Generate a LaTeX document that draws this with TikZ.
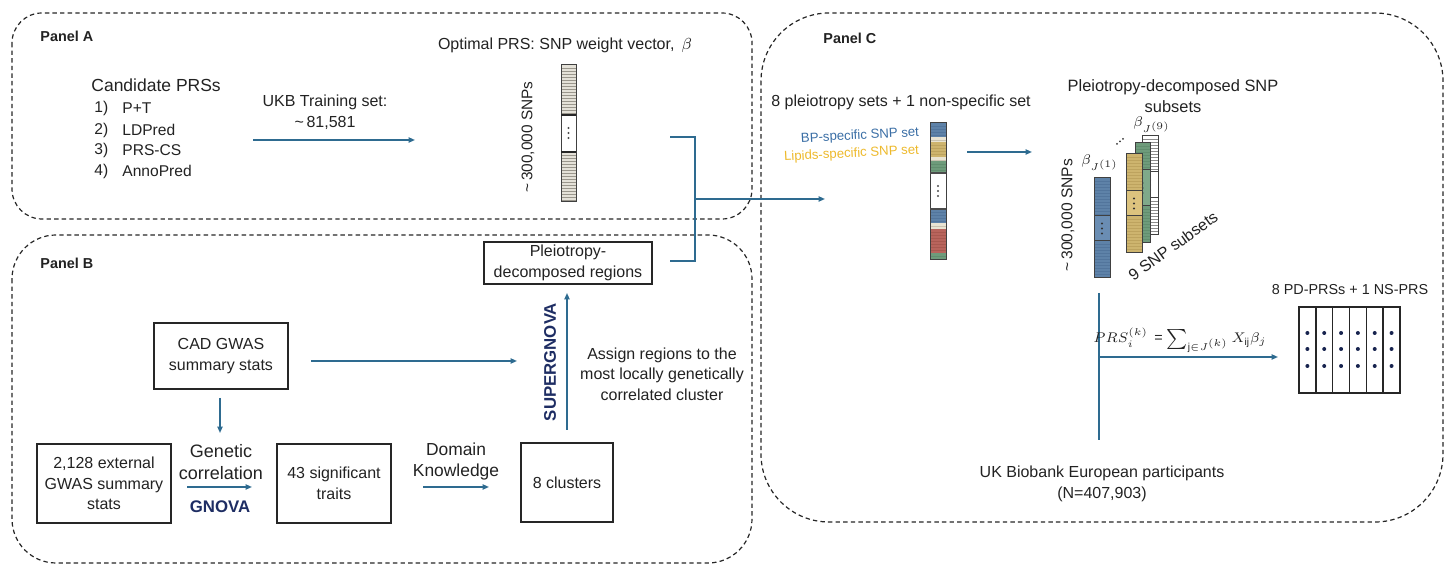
\documentclass[tikz,border=0pt]{standalone}
\usepackage{fontspec}
\setmainfont{Liberation Sans}
\usetikzlibrary{arrows.meta}
\definecolor{arrowblue}{HTML}{2E6B90}
\definecolor{navy}{HTML}{1E2D63}
\definecolor{txt}{HTML}{222222}
\definecolor{bptext}{HTML}{3A6EA5}
\definecolor{liptext}{HTML}{EDB92B}
\definecolor{vblue}{HTML}{5E82A8}
\definecolor{vbluel}{HTML}{52759C}
\definecolor{vbluem}{HTML}{6A8DB3}
\definecolor{vgold}{HTML}{CDB46E}
\definecolor{vgoldl}{HTML}{BDA35E}
\definecolor{vgoldm}{HTML}{DCC37E}
\definecolor{vgreen}{HTML}{6E9B7B}
\definecolor{vgreenl}{HTML}{618E6E}
\definecolor{vgreenm}{HTML}{7FA98A}
\definecolor{vred}{HTML}{B8645C}
\definecolor{vredl}{HTML}{A8584F}
\definecolor{vbeige}{HTML}{E9E4D3}
\definecolor{vbeigel}{HTML}{C9C3B0}
\definecolor{vgrey}{HTML}{E4E1D8}
\definecolor{vgreyl}{HTML}{9A968C}
\newcommand\fsz[2]{\fontsize{#1}{#2}\selectfont}
\newcommand\stripebox[6]{%
  \fill[#5] (#1,#2) rectangle (#3,#4);
  \pgfmathtruncatemacro\nstr{(#4-#2)/3}
  \foreach \k in {1,...,\nstr}{\draw[#6,line width=0.3pt] (#1,{#2+3*\k}) -- (#3,{#2+3*\k});}
}
\newcommand\vdotsat[3]{% x ycenter colour
  \fill[#3] (#1,#2) ++(0,-5) circle (0.55pt) (#1,#2) circle (0.55pt) (#1,#2) ++(0,5) circle (0.55pt);
}
\newcommand\stackvec[9]{% x1 y1 x2 y2 d1 d2 fill stripe mid
  \stripebox{#1}{#2}{#3}{#5}{#7}{#8}
  \fill[#9] (#1,#5) rectangle (#3,#6);
  \stripebox{#1}{#6}{#3}{#4}{#7}{#8}
  \draw[vborder] (#1,#2) rectangle (#3,#4);
  \draw[vborder] (#1,#5) -- (#3,#5) (#1,#6) -- (#3,#6);
  \pgfmathsetmacro\svx{(#1+#3)/2}
  \pgfmathsetmacro\svy{(#5+#6)/2}
  \vdotsat{\svx}{\svy}{black!80}
}
\begin{document}
\begin{tikzpicture}[x=0.5pt,y=-0.5pt,
  panel/.style={draw=black!85, dash pattern=on 2.2pt off 1.6pt, line width=0.6pt},
  conn/.style={draw=arrowblue, line width=0.75pt},
  arr/.style={conn, -{Triangle[length=3.2pt,width=2.6pt]}},
  vborder/.style={draw=black!75, line width=0.5pt},
  box/.style={draw=black!85, line width=0.75pt, inner sep=0, align=center, text=txt, font=\fsz{8}{10.25}},
  lbl/.style={inner sep=0, align=center, text=txt, font=\fsz{8}{10.25}},
  plabel/.style={inner sep=0, anchor=west, text=txt, font=\fsz{7.2}{9}\bfseries},
]
\useasboundingbox (0,0) rectangle (1448,565);

% ---------- panels ----------
\draw[panel, rounded corners=15pt] (12,13) rectangle (752,219);
\draw[panel, rounded corners=22pt] (12,235) rectangle (752,563);
\draw[panel, rounded corners=34pt] (761,13) rectangle (1443,522);

% ---------- Panel A ----------
\node[plabel] (pA) at (40,36) {Panel A};
\node[lbl, anchor=west, font=\fsz{8.75}{10.5}] (cand) at (91,85) {Candidate PRSs};
\foreach \n/\t/\y in {1/P+T/108, 2/LDPred/130, 3/PRS-CS/150, 4/AnnoPred/171}{
  \node[lbl, anchor=west, font=\fsz{7.8}{9.5}] (num\n) at (94,\y) {\n)};
  \node[lbl, anchor=west, font=\fsz{7.8}{9.5}] (item\n) at (122,\y) {\t};
}
\node[lbl] (ukb) at (325,112) {UKB Training set:\\[0pt]\textasciitilde\,81,581};
\coordinate (ukbS) at (253,140);
\coordinate (ukbE) at (415,140);
\draw[arr] (ukbS) -- (ukbE);

\node[lbl] (opt) at (565,45) {Optimal PRS: SNP weight vector, \,$\beta$};
\node[lbl, rotate=90, font=\fsz{7.7}{9}] (snpsA) at (528,137) {\textasciitilde\,300,000 SNPs};
% weight vector
\stripebox{561}{65}{576}{115}{vgrey}{vgreyl}
\fill[white] (561,115) rectangle (576,152);
\stripebox{561}{152}{576}{202}{vgrey}{vgreyl}
\draw[vborder] (561,65) rectangle (576,202);
\draw[black!85, line width=0.7pt] (561,115) -- (576,115) (561,152) -- (576,152);
\vdotsat{568.5}{133}{black!70}

% bracket to panel C
\coordinate (brT) at (670,137);
\coordinate (brB) at (670,261);
\coordinate (brM) at (695,199);
\coordinate (brE) at (825,199);
\draw[conn] (brT) -- (695,137) -- (695,261) -- (brB);
\draw[arr] (brM) -- (brE);

% ---------- Panel B ----------
\node[plabel] (pB) at (40,263) {Panel B};
\node[box, minimum width=67pt, minimum height=33pt] (cad) at (221,356) {CAD GWAS\\summary stats};
\node[box, minimum width=67pt, minimum height=39.5pt] (ext) at (104,483.5) {2,128 external\\GWAS summary\\stats};
\node[box, minimum width=57pt, minimum height=39.5pt] (sig) at (334,483.5) {43 significant\\traits};
\node[box, minimum width=46pt, minimum height=39.5pt] (clus) at (567,482.5) {8 clusters};
\node[box, minimum width=84pt, minimum height=21pt] (pdr) at (568,263) {Pleiotropy-\\decomposed regions};

\node[lbl, font=\fsz{9}{11}] (gen) at (221,462) {Genetic\\correlation};
\node[lbl, font=\fsz{8.4}{10}\bfseries, text=navy] (gnova) at (220,507) {GNOVA};
\node[lbl, font=\fsz{8.7}{10.5}] (dom) at (456,462) {Domain\\Knowledge};
\node[lbl, rotate=90, font=\fsz{8.4}{10}\bfseries, text=navy] (sgn) at (550,362) {SUPERGNOVA};
\node[lbl] (assign) at (662,374) {Assign regions to the\\most locally genetically\\correlated cluster};

\coordinate (cadR) at (311,361);
\coordinate (sgnIn) at (517,361);
\draw[arr] (cadR) -- (sgnIn);
\coordinate (cadD) at (220,398);
\coordinate (genTop) at (220,433);
\draw[arr] (cadD) -- (genTop);
\coordinate (genS) at (187,487);
\coordinate (genE) at (252,487);
\draw[arr] (genS) -- (genE);
\coordinate (domS) at (423,487);
\coordinate (domE) at (489,487);
\draw[arr] (domS) -- (domE);
\coordinate (upS) at (567,430);
\coordinate (upE) at (567,293);
\draw[arr] (upS) -- (upE);

% ---------- Panel C ----------
\node[plabel] (pC) at (823,38) {Panel C};
\node[lbl, anchor=west] (psets) at (771,102) {8 pleiotropy sets + 1 non-specific set};
\node[lbl, rotate=3, font=\fsz{6.6}{8}, text=bptext] (bp) at (860,136) {BP-specific SNP set};
\node[lbl, rotate=3, font=\fsz{6.6}{8}, text=liptext] (lip) at (851.5,154) {Lipids-specific SNP set};

% coloured vector
\stripebox{930}{123}{946}{137}{vblue}{vbluel}
\stripebox{930}{137}{946}{142}{vbeige}{vbeigel}
\stripebox{930}{142}{946}{157}{vgold}{vgoldl}
\stripebox{930}{157}{946}{161}{vbeige}{vbeigel}
\stripebox{930}{161}{946}{173}{vgreen}{vgreenl}
\fill[white] (930,173) rectangle (946,209);
\stripebox{930}{209}{946}{223}{vblue}{vbluel}
\stripebox{930}{223}{946}{229}{vbeige}{vbeigel}
\stripebox{930}{229}{946}{253}{vred}{vredl}
\stripebox{930}{253}{946}{260}{vgreen}{vgreenl}
\draw[vborder] (930,123) rectangle (946,260);
\draw[black!70, line width=0.6pt] (930,173) -- (946,173) (930,209) -- (946,209);
\vdotsat{938}{191}{black!70}

\coordinate (cS) at (967,152);
\coordinate (cE) at (1032,152);
\draw[arr] (cS) -- (cE);

\node[lbl, font=\fsz{8.2}{10.5}] (pds) at (1173,96) {Pleiotropy-decomposed SNP\\subsets};
\node[lbl, rotate=90, font=\fsz{7.8}{9}] (snpsC) at (1068,215) {\textasciitilde\,300,000 SNPs};

% stacked vectors (back to front)
\stackvec{1142}{136}{1158}{235}{172}{198}{white}{black!45}{white}
\stackvec{1135}{143}{1150}{243}{170}{206}{vgreen}{vgreenl}{vgreenm}
\stackvec{1126}{154}{1142}{253}{191}{216}{vgold}{vgoldl}{vgoldm}
\stackvec{1094}{178}{1110}{278}{216}{241}{vblue}{vbluel}{vbluem}
\fill[black!80] (1117,144) circle (0.5pt) (1120,141.5) circle (0.5pt) (1123,139) circle (0.5pt);

\node[lbl, font=\fsz{7}{8}] (b1) at (1100,163) {$\beta_{J^{(1)}}$};
\node[lbl, font=\fsz{7}{8}] (b9) at (1152,125) {$\beta_{J^{(9)}}$};
\node[lbl, rotate=36, font=\fsz{8}{9}] (sub9) at (1173,246) {9 SNP subsets};

% computation
\coordinate (vT) at (1099,293);
\coordinate (vB) at (1099,440);
\coordinate (hS) at (1099,357);
\coordinate (hE) at (1278,357);
\draw[conn] (vT) -- (vB);
\draw[arr] (hS) -- (hE);
\node[lbl, font=\fsz{7.2}{9}] (formula) at (1180,340) {$PRS_i^{(k)}$ \,= $\sum_{\mathrm{j}\in J^{(k)}} X_{\mathrm{ij}}\beta_j$};

\node[lbl, font=\fsz{7.2}{9}] (ppr) at (1350,290) {8 PD-PRSs + 1 NS-PRS};
\draw[black!85, line width=0.7pt] (1299,307) rectangle (1400,393);
\foreach \i in {1,...,5}{\draw[black!85, line width=0.7pt] ({1299+\i*16.83},307) -- ({1299+\i*16.83},393);}
\foreach \i in {0,...,5}{
  \foreach \yy in {333,349,366}{\fill[navy!80!black] ({1299+8.4+\i*16.83},\yy) circle (1pt);}
}
\node[lbl] (ukbio) at (1102,484) {UK Biobank European participants\\(N=407,903)};
\end{tikzpicture}
\end{document}
